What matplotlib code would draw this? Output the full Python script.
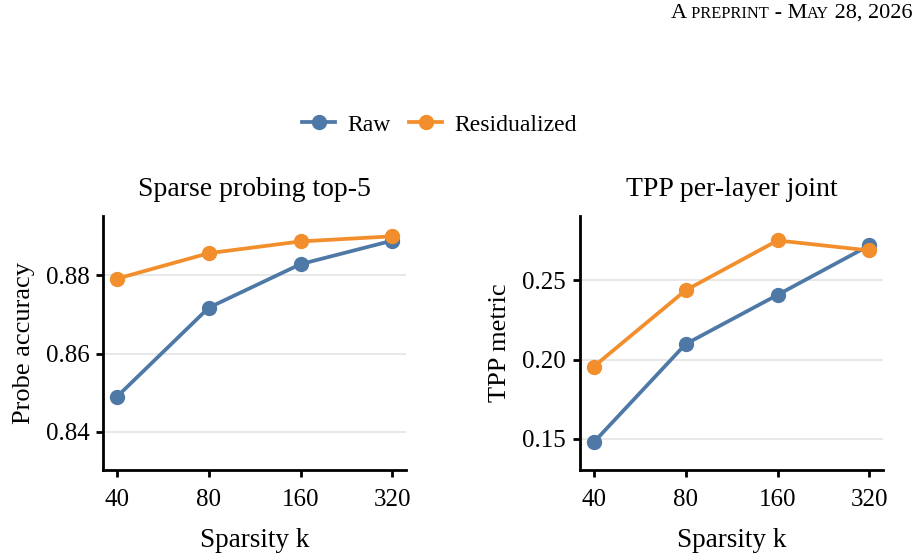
import numpy as np
import matplotlib
matplotlib.use("Agg")
import matplotlib.pyplot as plt
from matplotlib.offsetbox import TextArea, HPacker, AnchoredOffsetbox
from matplotlib.ticker import FixedLocator, FixedFormatter, NullLocator

plt.rcParams['font.family'] = ['Liberation Serif', 'DejaVu Serif']

# data
k_values = [40, 80, 160, 320]
probe_raw = [0.8490, 0.8717, 0.8828, 0.8888]
probe_resid = [0.8791, 0.8856, 0.8886, 0.8899]
tpp_raw = [0.1479, 0.2098, 0.2408, 0.2720]
tpp_resid = [0.1956, 0.2437, 0.2751, 0.2688]

BLUE = '#4e79a7'
ORANGE = '#f28e2b'
FS = 18

fig = plt.figure(figsize=(9.19, 5.57), dpi=100)

# page header in small caps style
big = dict(fontsize=16, color='black')
small = dict(fontsize=11.8, color='black')
pieces = [('A', big), (' PREPRINT', small), (' - M', big), ('AY', small), (' 28, 2026', big)]
header = HPacker(children=[TextArea(t, textprops=p) for t, p in pieces],
                 align='baseline', pad=0, sep=0)
anch = AnchoredOffsetbox(loc='upper right', child=header, frameon=False,
                         bbox_to_anchor=(0.993, 0.993), bbox_transform=fig.transFigure,
                         borderpad=0, pad=0)
fig.add_artist(anch)


def draw_panel(ax, raw, resid, title, ylabel, yticks, ylim):
    ax.set_xscale('log', base=2)
    ax.plot(k_values, raw, color=BLUE, lw=2.7, marker='o', ms=10, label='Raw', zorder=3)
    ax.plot(k_values, resid, color=ORANGE, lw=2.7, marker='o', ms=10, label='Residualized', zorder=3)
    ax.xaxis.set_major_locator(FixedLocator(k_values))
    ax.xaxis.set_major_formatter(FixedFormatter([str(k) for k in k_values]))
    ax.xaxis.set_minor_locator(NullLocator())
    ax.set_yticks(yticks)
    ax.set_yticklabels([f'{v:.2f}' for v in yticks])
    ax.set_ylim(*ylim)
    ax.grid(axis='y', color='#e6e6e6', lw=1.3, zorder=0)
    ax.set_axisbelow(True)
    for s in ['top', 'right']:
        ax.spines[s].set_visible(False)
    for s in ['left', 'bottom']:
        ax.spines[s].set_linewidth(2.0)
    ax.tick_params(axis='both', labelsize=FS, length=5, width=2.0, pad=5)
    ax.tick_params(axis='x', pad=9)
    ax.set_title(title, fontsize=20, pad=14)
    ax.set_ylabel(ylabel, fontsize=19, labelpad=8)
    ax.set_xlabel('Sparsity k', fontsize=19.5, labelpad=12)


ax1 = fig.add_axes([0.1124, 0.157, 0.3294, 0.456])
ax2 = fig.add_axes([0.6311, 0.157, 0.3300, 0.456])

draw_panel(ax1, probe_raw, probe_resid, 'Sparse probing top-5', 'Probe accuracy',
           [0.84, 0.86, 0.88], (0.8304, 0.8952))
draw_panel(ax2, tpp_raw, tpp_resid, 'TPP per-layer joint', 'TPP metric',
           [0.15, 0.20, 0.25], (0.1307, 0.2908))

handles, labels = ax1.get_legend_handles_labels()
fig.legend(handles, labels, loc='center', bbox_to_anchor=(0.478, 0.776), ncol=2,
           frameon=False, fontsize=17, handlelength=1.4, columnspacing=0.8,
           handletextpad=0.5)

fig.savefig('out.png', dpi=100)
